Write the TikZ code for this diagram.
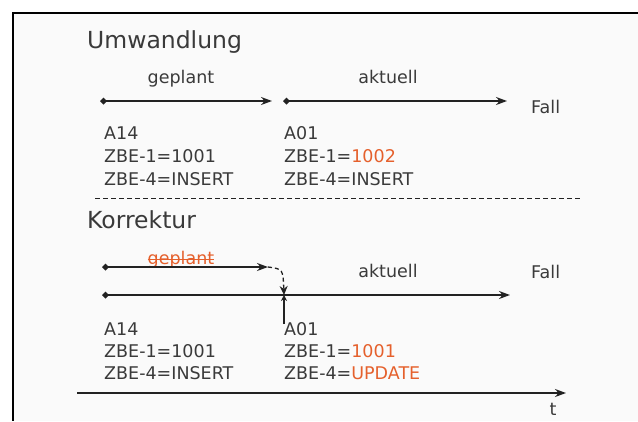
\documentclass[tikz,border=0pt]{standalone}
\usepackage{fontspec}
\setmainfont{DejaVu Sans}
\usetikzlibrary{arrows.meta}
\definecolor{ink}{RGB}{58,58,58}
\definecolor{lineink}{RGB}{34,34,34}
\definecolor{hot}{RGB}{229,96,44}
\newcommand{\hl}[1]{\textcolor{hot}{#1}}
\tikzset{
  lbl/.style={inner sep=0pt, text=ink, font=\fontsize{17.5}{21}\selectfont},
  ttl/.style={inner sep=0pt, text=ink, font=\fontsize{23.5}{28}\selectfont, anchor=base west},
  row/.style={lbl, anchor=base west},
  span/.style={draw=lineink, line width=1.5pt,
    {Diamond[length=7pt,width=7pt]}-{Stealth[length=11pt,width=8pt]}},
  fwd/.style={draw=lineink, line width=1.5pt, -{Stealth[length=11pt,width=8pt]}},
  frame/.style={draw=black, line width=1.2pt},
}
\begin{document}
\begin{tikzpicture}[x=1pt,y=-1pt]
  \useasboundingbox (0,0) rectangle (638,421);
  % panel background and its top/left border
  \fill[black!2] (13,13) rectangle (638,421);
  \draw[frame] (638,13) -- (13,13) -- (13,421);

  % ---------- Umwandlung ----------
  \node[ttl] (tu) at (87,48) {Umwandlung};
  \node[lbl, anchor=base] (ug) at (181,83) {geplant};
  \node[lbl, anchor=base] (ua) at (388,83) {aktuell};
  \node[row] (uf) at (531,113) {Fall};
  \coordinate (u1s) at (100,101);
  \coordinate (u1e) at (272,101);
  \coordinate (u2s) at (283,101);
  \coordinate (u2e) at (507,101);
  \draw[span] (u1s) -- (u1e);
  \draw[span] (u2s) -- (u2e);
  \node[row] (ua1) at (104,139) {A14};
  \node[row] (ua2) at (104,162) {ZBE-1=1001};
  \node[row] (ua3) at (104,185) {ZBE-4=INSERT};
  \node[row] (ub1) at (284,139) {A01};
  \node[row] (ub2) at (284,162) {ZBE-1=\hl{1002}};
  \node[row] (ub3) at (284,185) {ZBE-4=INSERT};

  % separator
  \coordinate (sepl) at (95,198);
  \coordinate (sepr) at (582,198);
  \draw[lineink, line width=1pt, dash pattern=on 5pt off 3pt] (sepl) -- (sepr);

  % ---------- Korrektur ----------
  \node[ttl] (tk) at (87,228) {Korrektur};
  \node[lbl, anchor=base, text=hot] (kg) at (181,264) {geplant};
  \draw[hot, line width=1.1pt] ([yshift=4.5pt]kg.base west) -- ([yshift=4.5pt]kg.base east);
  \node[lbl, anchor=base] (ka) at (388,277) {aktuell};
  \node[row] (kf) at (531,278) {Fall};
  \coordinate (k1s) at (102,267);
  \coordinate (k1e) at (268,267);
  \coordinate (k2s) at (102,295);
  \coordinate (k2e) at (510,295);
  \coordinate (kv) at (284,295);
  \coordinate (kvb) at (284,324);
  \draw[span] (k1s) -- (k1e);
  \draw[span] (k2s) -- (k2e);
  \draw[draw=lineink, line width=1.3pt, dash pattern=on 4pt off 3pt,
        -{Stealth[length=9pt,width=8pt]}]
    (k1e) .. controls (283,269) .. (kv);
  \draw[draw=lineink, line width=1.2pt, -{Stealth[length=6pt,width=6pt]}] (kvb) -- (kv);
  \node[row] (ka1) at (104,335) {A14};
  \node[row] (ka2) at (104,357) {ZBE-1=1001};
  \node[row] (ka3) at (104,379) {ZBE-4=INSERT};
  \node[row] (kb1) at (284,335) {A01};
  \node[row] (kb2) at (284,357) {ZBE-1=\hl{1001}};
  \node[row] (kb3) at (284,379) {ZBE-4=\hl{UPDATE}};

  % time axis
  \coordinate (ts) at (77,393);
  \coordinate (te) at (566,393);
  \draw[fwd] (ts) -- (te);
  \node[lbl, anchor=base] (tt) at (553,415) {t};
\end{tikzpicture}
\end{document}
